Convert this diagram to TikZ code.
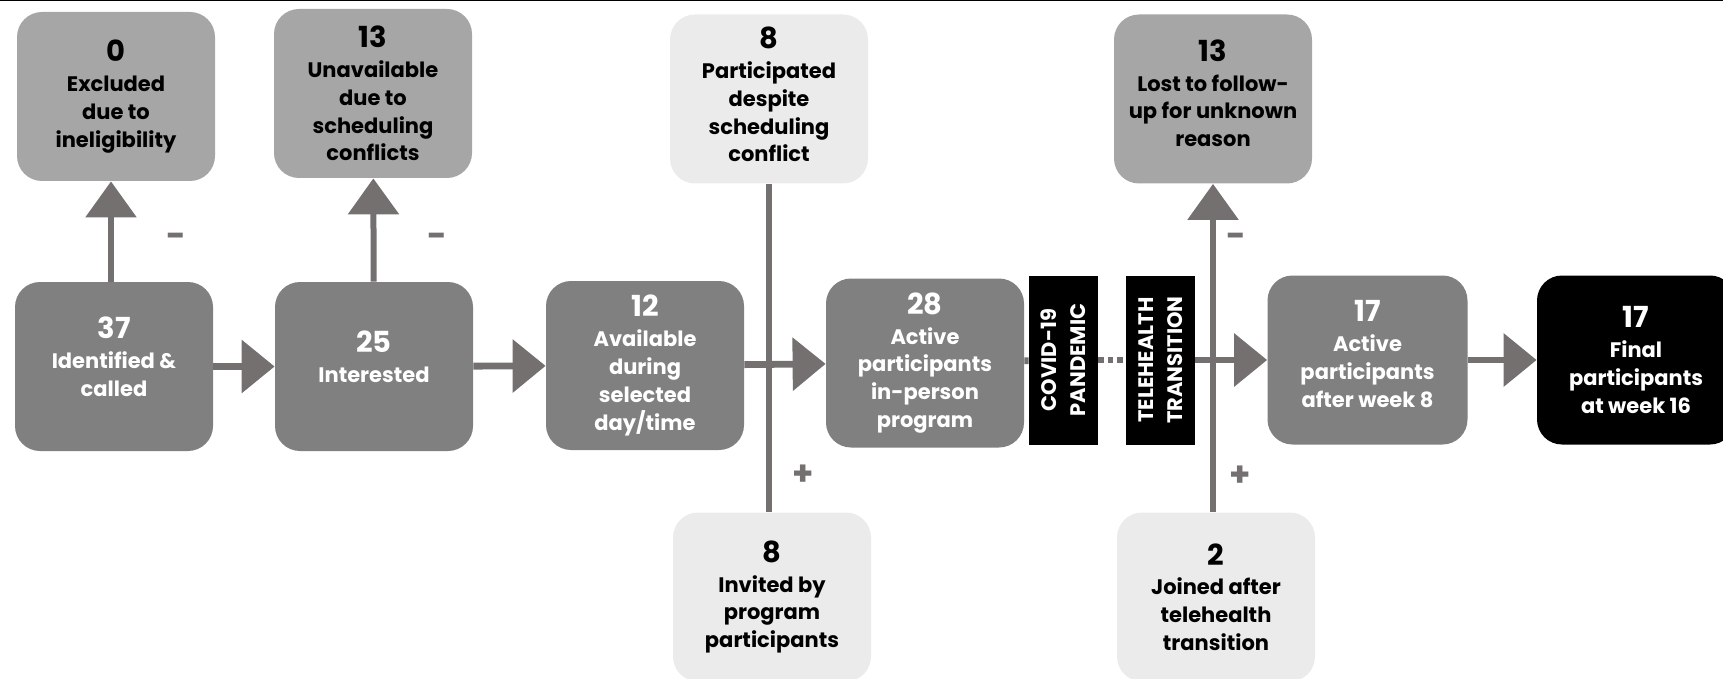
\documentclass[tikz,border=0pt]{standalone}
\usepackage{fontspec}
\setmainfont{Poppins}
\usepackage{xcolor}
\usepackage{tikz}
\usetikzlibrary{arrows.meta, positioning}
\definecolor{boxdark}{RGB}{128,128,128}
\definecolor{boxmid}{RGB}{166,166,166}
\definecolor{boxlight}{RGB}{235,235,235}
\definecolor{linegray}{RGB}{117,112,112}
\newcommand{\countnum}[1]{{\fontsize{14.5}{15}\selectfont #1}\\[1pt]}
\tikzstyle{darkbox} = [rectangle, rounded corners=12.5pt, minimum width=99pt, minimum height=84.5pt, fill=boxdark, text=white, align=center, inner sep=2pt, font=\bfseries\fontsize{10.5}{13.9}\selectfont]
\tikzstyle{midbox} = [darkbox, fill=boxmid, text=black]
\tikzstyle{lightbox} = [darkbox, fill=boxlight, text=black]
\tikzstyle{bandbox} = [rectangle, fill=black, text=white, rotate=90, minimum width=84.5pt, minimum height=34.5pt, inner sep=0pt, align=center, font=\bfseries\fontsize{10.5}{14.5}\selectfont]
\tikzstyle{signlabel} = [text=linegray, inner sep=0pt, font=\bfseries\fontsize{17}{17}\selectfont]
\tikzstyle{flowarrow} = [line width=3.4pt, draw=linegray, -{Triangle[width=26pt,length=16.5pt]}]
\tikzstyle{sidearrow} = [line width=3pt, draw=linegray, -{Triangle[width=25pt,length=18pt]}]
\tikzstyle{crossline} = [line width=3pt, draw=linegray]

\begin{document}
\begin{tikzpicture}[x=0.5pt, y=-0.5pt]
    \useasboundingbox (0,0) rectangle (1723,679);
    \clip (0,0) rectangle (1723,679);
    \draw [black, line width=0.6pt] (0,0.6) -- (1723,0.6);

    % main row
    \node (ident) [darkbox] at (114,366.5) {\countnum{37}Identified \&\\called\\[-4pt]\mbox{}};
    \node (interest) [darkbox] at (374,366.5) {\countnum{25}Interested\\[-4pt]\mbox{}};
    \node (avail) [darkbox] at (645,365.5) {\countnum{12}Available\\during\\selected\\day/time};
    \node (active) [darkbox] at (925,363) {\countnum{28}Active\\participants\\in-person\\program};
    \node (covid) [bandbox] at (1063.5,360) {COVID-19\\PANDEMIC};
    \node (tele) [bandbox] at (1160.5,360) {TELEHEALTH\\TRANSITION};
    \node (week8) [darkbox, minimum width=100pt] at (1367.5,360) {\countnum{17}Active\\participants\\after week 8\\[-8pt]\mbox{}};
    \node (final) [darkbox, fill=black] at (1636,360) {\countnum{17}Final\\participants\\at week 16};

    % side boxes
    \node (excl) [midbox] at (116,96.5) {\countnum{0}Excluded\\due to\\ineligibility};
    \node (unavail) [midbox] at (373,93.5) {\countnum{13}Unavailable\\due to\\scheduling\\conflicts};
    \node (despite) [lightbox] at (769,99) {\countnum{8}Participated\\despite\\scheduling\\conflict\\[-9.5pt]\mbox{}};
    \node (invited) [lightbox] at (772,597) {\countnum{8}Invited by\\program\\participants};
    \node (lost) [midbox] at (1213,99) {\countnum{13}Lost to follow-\\up for unknown\\reason\\[-8pt]\mbox{}};
    \node (joined) [lightbox] at (1216,597) {\countnum{2}Joined after\\telehealth\\transition};

    % signs
    \node (minus1) [signlabel] at (176,240) {-};
    \node (minus2) [signlabel] at (437,240) {-};
    \node (minus3) [signlabel] at (1236,240) {-};
    \node (plus1) [signlabel] at (803,475) {+};
    \node (plus2) [signlabel] at (1240,476) {+};

    \draw [crossline] (despite.south) -- (despite.south |- invited.north);
    \draw [flowarrow] (ident) -- (interest);
    \draw [flowarrow] (interest) -- (avail);
    \draw [flowarrow] (avail) -- (active);
    \draw [line width=3.4pt, draw=linegray] (active) -- (covid);
    \draw [line width=3.4pt, draw=linegray, dash pattern=on 2.75pt off 2pt] (covid) -- (tele);
    \draw [flowarrow] (tele) -- (week8);
    \draw [flowarrow] (week8) -- (final);
    \draw [sidearrow] (ident.north -| 111,0) -- (excl.south -| 111,0);
    \draw [sidearrow] (interest) -- (unavail);
    \draw [sidearrow] (lost.south |- joined.north) -- (lost.south);
\end{tikzpicture}
\end{document}
